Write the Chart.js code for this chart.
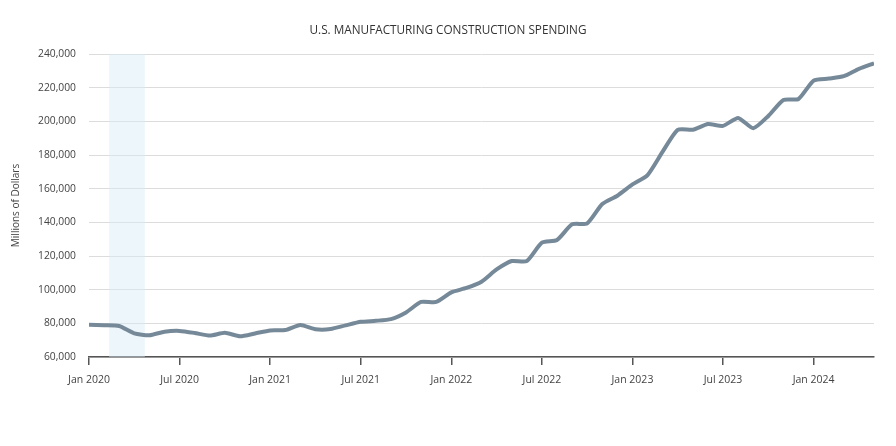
<!DOCTYPE html>
<html>
<head>
<meta charset="utf-8">
<script src="https://cdn.jsdelivr.net/npm/chart.js@4.4.1/dist/chart.umd.min.js"></script>
<style>
  html, body { margin: 0; padding: 0; background: #fff; }
  #wrap { width: 896px; height: 446px; }
</style>
</head>
<body>
<div id="wrap"><canvas id="chart"></canvas></div>
<script>
// U.S. manufacturing construction spending, monthly, Jan 2020 - May 2024 (millions of dollars)
const monthNames = ['Jan', 'Feb', 'Mar', 'Apr', 'May', 'Jun', 'Jul', 'Aug', 'Sep', 'Oct', 'Nov', 'Dec'];
const startYear = 2020;

const spending = [
  79200, 78900, 78400, 74000, 72900, 75000, 75500, 74300, 72700, 74400, 72300, 74000,
  75800, 76000, 79000, 76500, 76600, 78800, 80900, 81500, 82500, 86500, 92700, 92700,
  98400, 101000, 104700, 112000, 117000, 117000, 127900, 129500, 138800, 139400, 150900, 155800,
  162500, 168100, 182000, 194900, 195000, 198400, 197300, 202000, 195900, 203200, 212700, 213300,
  224200, 225400, 226800, 231200, 234500
];

// recession shading, in months since Jan 2020
const recessionStart = 1.33;
const recessionEnd = 3.7;

const yTicks = [60000, 80000, 100000, 120000, 140000, 160000, 180000, 200000, 220000, 240000];

const points = spending.map((v, i) => ({ x: i, y: v }));

function monthLabel(i) {
  const y = startYear + Math.floor(i / 12);
  return monthNames[i % 12] + ' ' + y;
}

// draws the shaded recession band behind the line
const recessionBand = {
  id: 'recessionBand',
  beforeDatasetsDraw(chart) {
    const { ctx, chartArea, scales } = chart;
    const x0 = scales.x.getPixelForValue(recessionStart);
    const x1 = scales.x.getPixelForValue(recessionEnd);
    ctx.save();
    ctx.fillStyle = 'rgba(214, 234, 243, 0.45)';
    ctx.fillRect(x0, chartArea.top, x1 - x0, chartArea.bottom - chartArea.top);
    ctx.restore();
  }
};

Chart.defaults.font.family = '"Open Sans", sans-serif';
Chart.defaults.color = '#444';

const ctx = document.getElementById('chart').getContext('2d');
new Chart(ctx, {
  type: 'line',
  data: {
    datasets: [{
      label: 'Manufacturing construction spending',
      data: points,
      borderColor: '#768999',
      borderWidth: 4,
      pointRadius: 0,
      tension: 0.2,
      fill: false
    }]
  },
  options: {
    responsive: true,
    maintainAspectRatio: false,
    animation: false,
    layout: { padding: 0 },
    plugins: {
      legend: { display: false },
      tooltip: { enabled: false },
      title: {
        display: true,
        text: 'U.S. MANUFACTURING CONSTRUCTION SPENDING',
        color: '#333',
        font: { size: 11.75, weight: 'normal' },
        padding: { top: 23.6, bottom: 16.3 }
      }
    },
    scales: {
      x: {
        type: 'linear',
        min: 0,
        max: spending.length - 1,
        afterBuildTicks: axis => {
          axis.ticks = [];
          for (let i = 0; i < spending.length; i += 6) axis.ticks.push({ value: i });
        },
        afterFit: axis => { axis.height = 89; },
        ticks: {
          callback: v => monthLabel(v),
          color: '#444',
          font: { size: 10.5 },
          padding: 9,
          maxRotation: 0,
          autoSkip: false
        },
        grid: {
          drawOnChartArea: false,
          drawTicks: true,
          tickLength: 8,
          color: '#555',
          lineWidth: 1.5
        },
        border: { display: true, color: '#555', width: 1.5 }
      },
      y: {
        min: 60000,
        max: 240000,
        afterBuildTicks: axis => { axis.ticks = yTicks.map(v => ({ value: v })); },
        afterFit: axis => { axis.width = 89; },
        title: {
          display: true,
          text: 'Millions of Dollars',
          color: '#444',
          font: { size: 10 },
          padding: { top: 10, bottom: 0 }
        },
        ticks: {
          callback: v => v.toLocaleString('en-US'),
          color: '#444',
          font: { size: 10.3 },
          padding: 13
        },
        grid: {
          drawTicks: false,
          color: '#dcdcdc',
          lineWidth: 1
        },
        border: { display: false }
      },
      // empty spacer on the right so the plot stops short of the edge
      spacer: {
        type: 'linear',
        position: 'right',
        afterFit: axis => { axis.width = 22; },
        ticks: { display: false },
        grid: { display: false },
        border: { display: false }
      }
    }
  },
  plugins: [recessionBand]
});
</script>
</body>
</html>
